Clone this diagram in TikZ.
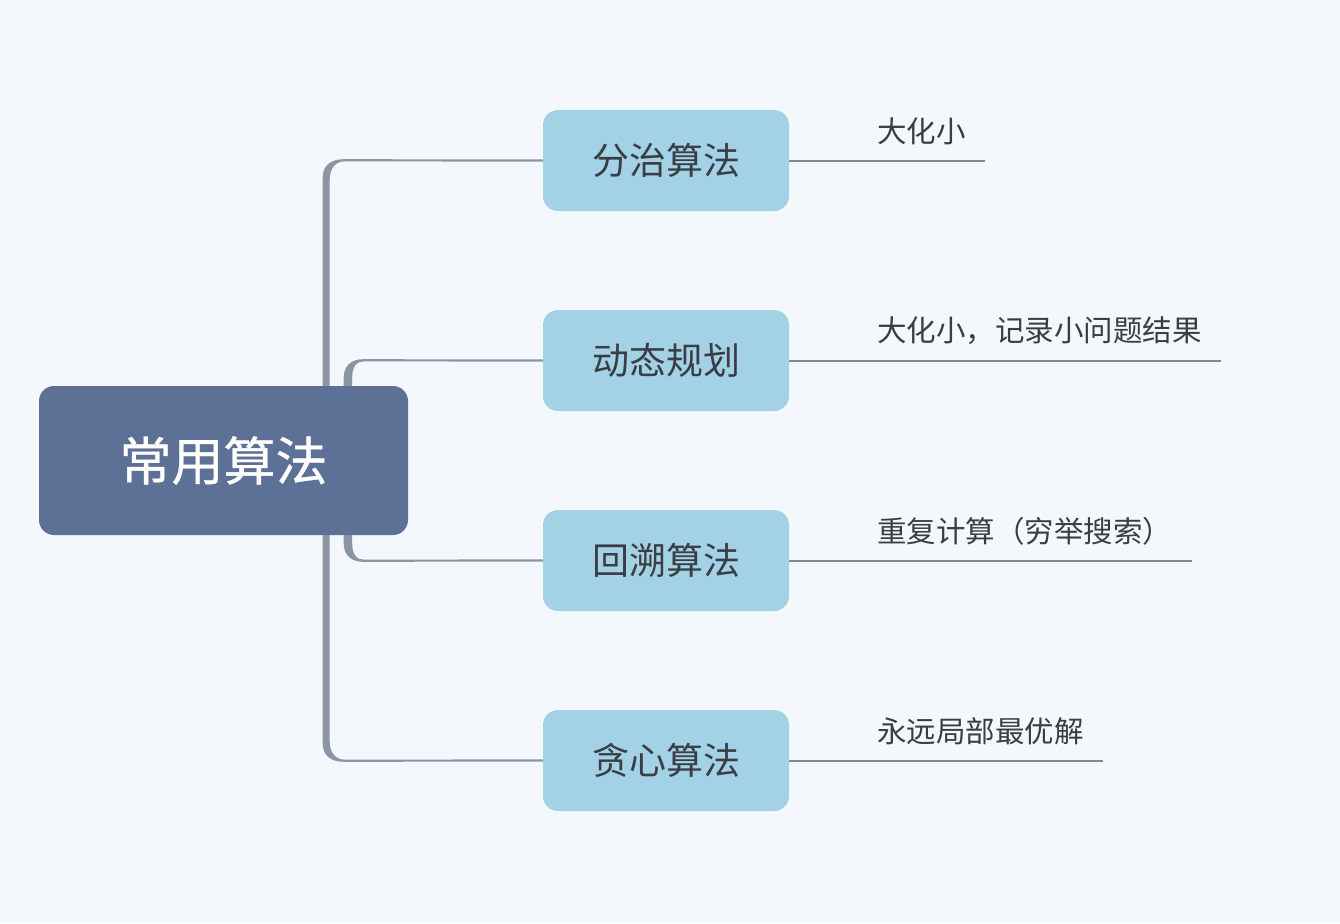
\documentclass[tikz,border=0pt]{standalone}
\usepackage{fontspec}
\setmainfont{Noto Sans CJK SC}
\newfontfamily\rootfont[FakeBold=0.7]{Noto Sans CJK SC}
\usetikzlibrary{backgrounds}
\definecolor{bgc}{HTML}{F4F8FD}
\definecolor{rootc}{HTML}{5D7196}
\definecolor{childc}{HTML}{A3D2E6}
\definecolor{linec}{HTML}{8C95A6}
\definecolor{leafc}{HTML}{7F8898}
\definecolor{txtc}{HTML}{3A3D44}
\tikzset{
  rootbox/.style={fill=rootc, rounded corners=15pt, minimum width=369pt, minimum height=149pt, inner sep=0pt,
    text=white, font=\rootfont\fontsize{52}{60}\selectfont},
  childbox/.style={fill=childc, rounded corners=15pt, minimum width=246pt, minimum height=101pt, inner sep=0pt,
    text=txtc, font=\fontsize{37}{44}\selectfont},
  leaflabel/.style={anchor=west, inner sep=0pt, text=txtc, font=\fontsize{29.5}{34}\selectfont},
  hline/.style={draw=linec, line width=2.2pt},
  taper/.style={fill=linec},
  leafline/.style={draw=leafc, line width=2pt}
}
\begin{document}
\begin{tikzpicture}[x=1pt,y=-1pt]
\useasboundingbox (0,0) rectangle (1340,923);
\node[rootbox] (r) at (223.5,460.5) {常用算法};
\node[childbox] (c1) at (666,160.5) {分治算法};
\node[childbox] (c2) at (666,360.5) {动态规划};
\node[childbox] (c3) at (666,560.5) {回溯算法};
\node[childbox] (c4) at (666,760.5) {贪心算法};
\node[leaflabel] (l1) at (877,131) {大化小};
\node[leaflabel] (l2) at (877,331) {大化小，记录小问题结果};
\node[leaflabel] (l3) at (877,531) {重复计算（穷举搜索）};
\node[leaflabel] (l4) at (877,731) {永远局部最优解};
\coordinate (tn) at ([xshift=-82pt]r.north east);
\coordinate (ts) at ([xshift=-82pt]r.south east);
\coordinate (un) at ([xshift=-60pt]r.north east);
\coordinate (us) at ([xshift=-60pt]r.south east);
\begin{scope}[on background layer]
\fill[bgc] (0,0) rectangle (1340,923);
% outer branches (tapered trunk)
\begin{scope}[shift={(tn)}]
  \fill[taper] (-3.5,0) -- (-3.5,-208) .. controls (-3.5,-220) and (4,-226.6) .. (18,-226.6)
    -- (18,-224.4) .. controls (10,-224.4) and (3.5,-218) .. (3.5,-206) -- (3.5,0) -- cycle;
  \coordinate (b1) at (17,-225.5);
\end{scope}
\begin{scope}[shift={(ts)}, yscale=-1]
  \fill[taper] (-3.5,0) -- (-3.5,-208) .. controls (-3.5,-220) and (4,-226.6) .. (18,-226.6)
    -- (18,-224.4) .. controls (10,-224.4) and (3.5,-218) .. (3.5,-206) -- (3.5,0) -- cycle;
  \coordinate (b4) at (17,-225.5);
\end{scope}
% inner branches
\begin{scope}[shift={(un)}]
  \fill[taper] (-4.5,0) -- (-4.5,-8) .. controls (-4.5,-20) and (3,-26.6) .. (15,-26.6)
    -- (15,-24.4) .. controls (8,-24.4) and (4,-19) .. (4,-8) -- (4,0) -- cycle;
  \coordinate (b2) at (14,-25.5);
\end{scope}
\begin{scope}[shift={(us)}, yscale=-1]
  \fill[taper] (-4.5,0) -- (-4.5,-8) .. controls (-4.5,-20) and (3,-26.6) .. (15,-26.6)
    -- (15,-24.4) .. controls (8,-24.4) and (4,-19) .. (4,-8) -- (4,0) -- cycle;
  \coordinate (b3) at (14,-25.5);
\end{scope}
\draw[hline] (b1) -- (c1.west);
\draw[hline] (b2) -- (c2.west);
\draw[hline] (b3) -- (c3.west);
\draw[hline] (b4) -- (c4.west);
% leaves
\draw[leafline] (c1.east) -- ++(196,0) coordinate (e1);
\draw[leafline] (c2.east) -- ++(432,0) coordinate (e2);
\draw[leafline] (c3.east) -- ++(403,0) coordinate (e3);
\draw[leafline] (c4.east) -- ++(314,0) coordinate (e4);
\end{scope}
\end{tikzpicture}
\end{document}
